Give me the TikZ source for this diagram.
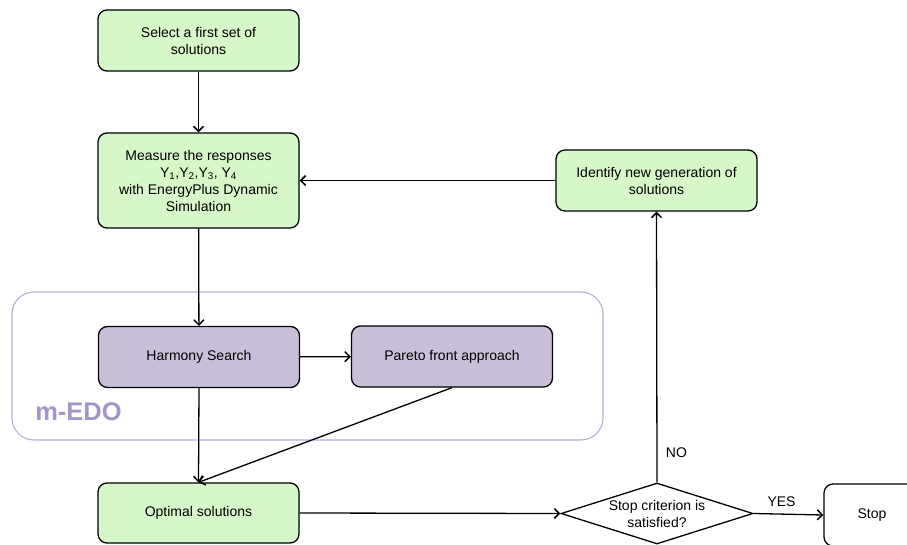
\documentclass[tikz,border=0pt]{standalone}
\usepackage{fontspec}
\setmainfont{Liberation Sans}
\usetikzlibrary{shapes.geometric,arrows.meta}
\definecolor{boxgreen}{HTML}{D6F8C8}
\definecolor{boxpurple}{HTML}{C9BFD9}
\definecolor{edoline}{HTML}{B9ADD6}
\definecolor{edotext}{HTML}{A495C7}

\begin{document}
\begin{tikzpicture}[x=1pt, y=-1pt,
    every node/.style={font=\fontsize{14}{17}\selectfont},
    greenbox/.style={draw, line width=1.3pt, fill=boxgreen, rounded corners=9pt,
        minimum width=201pt, minimum height=61pt, align=center},
    purplebox/.style={draw, line width=1.3pt, fill=boxpurple, rounded corners=9pt,
        minimum width=201pt, minimum height=61pt, align=center},
    decision/.style={draw, line width=1.3pt, diamond, inner sep=0pt,
        minimum width=192pt, minimum height=61pt},
    flow/.style={-{Straight Barb[length=5pt,width=10pt,line width=1.5pt]}, line width=1.3pt}]
    \path[use as bounding box, clip] (0,0) rectangle (907,545);

    % m-EDO group
    \draw[edoline, line width=1.1pt, rounded corners=22pt] (12,292) rectangle (603,440);
    \node[text=edotext, font=\fontsize{25.5}{28}\bfseries] (medo) at (78.5,412) {m-EDO};

    \node[greenbox] (select) at (198.5,40.5) {Select a first set of\\solutions};
    \node[greenbox, minimum height=95pt] (measure) at (198.5,180.5)
        {Measure the responses\\Y\textsubscript{1},Y\textsubscript{2},Y\textsubscript{3}, Y\textsubscript{4}\\with EnergyPlus Dynamic\\Simulation};
    \node[greenbox] (identify) at (656.5,180.5) {Identify new generation of\\solutions};
    \node[purplebox] (harmony) at (199,357) {Harmony Search};
    \node[purplebox] (pareto) at (452,356.5) {Pareto front approach};
    \node[greenbox, minimum height=60pt] (optimal) at (198.5,513) {Optimal solutions};
    \node[decision, label={[align=center]center:Stop criterion is\\satisfied?}] (stopcrit) at (657,513.5) {};
    \node[draw, line width=1.3pt, rounded corners=9pt, minimum width=96pt, minimum height=62pt] (stop) at (872,515) {Stop};

    \draw[flow] (select) -- (measure);
    \draw[flow] (measure) -- (harmony);
    \draw[flow] (harmony) -- (pareto);
    \draw[flow] (harmony.south) -- (optimal.north);
    \draw[flow] (pareto.south) -- (optimal.north);
    \draw[flow] (optimal.east) -- (stopcrit.west);
    \draw[flow] (stopcrit.north) --node[right=5pt, pos=0.11]{NO} (identify.south);
    \draw[flow] (identify.west) -- (measure.east);
    \draw[flow] (stopcrit.east) --node[above=3pt, pos=0.4]{YES} (stop.west);
\end{tikzpicture}
\end{document}
